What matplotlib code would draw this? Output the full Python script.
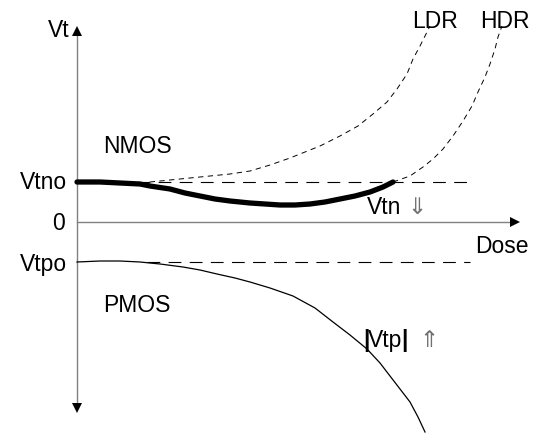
import matplotlib
matplotlib.use("Agg")
import numpy as np
import matplotlib.pyplot as plt

# Schematic: threshold voltage shift vs total dose (arbitrary units, y-axis at x=0)
VTNO = 40
VTPO = -40

# NMOS threshold (thick, actual curve)
nmos_x = [0, 23, 43, 63, 73, 93, 108, 123, 138, 153, 173, 188, 203, 218, 233, 248, 263, 278, 293, 306, 316]
nmos_y = [40, 40, 39, 38, 36, 33, 29, 26, 23, 21, 19, 18, 17, 17, 18, 20, 23, 26, 30, 35, 40]

# low dose rate rebound (dashed)
ldr_x = [63, 93, 123, 153, 173, 193, 213, 223, 243, 263, 281, 296, 310, 320, 330, 336, 343, 348, 353]
ldr_y = [39, 42, 45, 48, 51, 57, 64, 68, 76, 86, 96, 108, 120, 133, 148, 163, 176, 186, 196]

# high dose rate rebound (dashed)
hdr_x = [316, 333, 346, 356, 366, 376, 386, 395, 401, 408, 413, 418, 421, 425]
hdr_y = [40, 46, 55, 63, 73, 86, 101, 116, 130, 145, 158, 173, 185, 196]

# PMOS threshold (thin)
pmos_x = [0, 23, 43, 63, 83, 106, 123, 140, 158, 173, 193, 216, 238, 256, 273, 290, 303, 313, 323, 333, 341, 348]
pmos_y = [-40, -39, -39, -40, -42, -45, -48, -52, -56, -60, -66, -74, -86, -100, -113, -127, -141, -154, -167, -180, -195, -210]

FONT = ["Liberation Sans", "DejaVu Sans"]
FS = 16.5

fig = plt.figure(figsize=(5.33, 4.35), dpi=100)
ax = fig.add_axes([0, 0, 1, 1])
ax.set_xlim(-77, 456)
ax.set_ylim(-212, 223)
ax.axis("off")

# axes with arrow heads
ax.plot([0, 0], [-186, 190], color="#808080", lw=1.0)
ax.plot([0, 438], [0, 0], color="#808080", lw=1.0)
ax.plot(0, 191, marker="^", color="black", ms=6.5, mew=0)
ax.plot(0, -186, marker="v", color="black", ms=6.5, mew=0)
ax.plot(438, 0, marker=">", color="black", ms=6.5, mew=0)

# reference levels
ax.plot([60, 393], [VTNO, VTNO], color="black", lw=0.8, ls=(0, (11.5, 7.5)))
ax.plot([70, 393], [VTPO, VTPO], color="black", lw=0.8, ls=(0, (11.5, 7.5)))

# rebound curves
ax.plot(ldr_x, ldr_y, color="black", lw=0.7, ls=(0, (5.5, 4.5)))
ax.plot(hdr_x, hdr_y, color="black", lw=0.7, ls=(0, (5.5, 4.5)))

ax.plot(pmos_x, pmos_y, color="black", lw=0.9)
ax.plot(nmos_x, nmos_y, color="black", lw=3.8, solid_capstyle="round",
        solid_joinstyle="round")

# labels
kw = dict(fontsize=FS, family=FONT, va="baseline")
ax.text(-7, 186, "Vt", ha="right", **kw)
ax.text(-10, 34, "Vtno", ha="right", **kw)
ax.text(-12, -7, "0", ha="right", **kw)
ax.text(-10, -48, "Vtpo", ha="right", **kw)
ax.text(26, 70, "NMOS", ha="left", **kw)
ax.text(26, -89, "PMOS", ha="left", **kw)
ax.text(398, -30, "Dose", ha="left", **kw)
ax.text(335, 195, "LDR", ha="left", **kw)
ax.text(403, 195, "HDR", ha="left", **kw)
ax.text(290, 9, "Vtn", ha="left", **kw)
ax.text(330, 9, "\u21d3", ha="left", color="#707070", **kw)
ax.text(286, -124, "|", ha="left", fontweight="bold", **kw)
ax.text(291, -124, "Vtp", ha="left", **kw)
ax.text(324, -124, "|", ha="left", fontweight="bold", **kw)
ax.text(342, -124, "\u21d1", ha="left", color="#707070", **kw)

fig.savefig("out.png", dpi=100)
